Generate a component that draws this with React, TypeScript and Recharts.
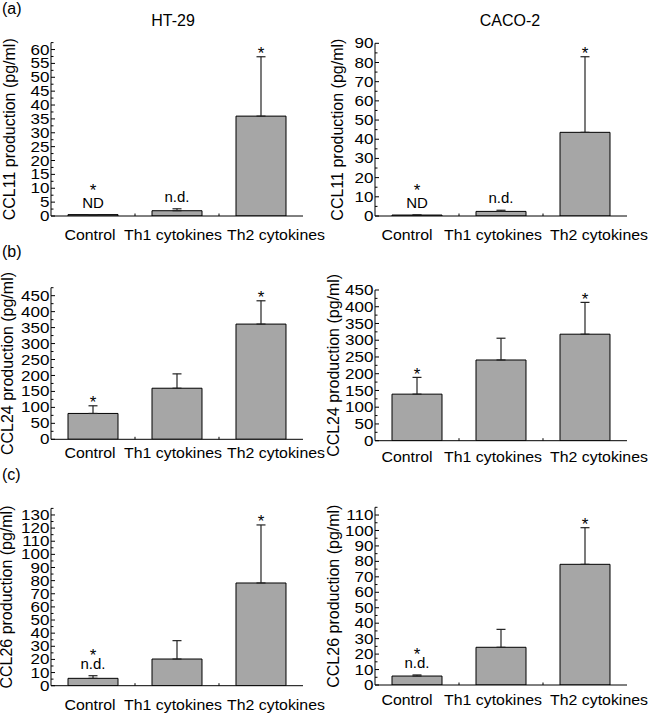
import { ComposedChart, Bar, Line, XAxis, YAxis, ErrorBar } from "recharts";

const FONT = '"Liberation Sans", Arial, Helvetica, sans-serif';

const categories = ["Control", "Th1 cytokines", "Th2 cytokines"];

// (a) CCL11
const ccl11Ht29 = [0.5, 1.9, 36.0];
const ccl11Ht29Sd = [0, 0.7, 21.4];
const ccl11Caco2 = [0.5, 2.4, 43.6];
const ccl11Caco2Sd = [0, 0.6, 39.4];

// (b) CCL24
const ccl24Ht29 = [81, 160, 361];
const ccl24Ht29Sd = [24, 45, 73];
const ccl24Caco2 = [139, 241, 318];
const ccl24Caco2Sd = [50, 65, 95];

// (c) CCL26
const ccl26Ht29 = [5.6, 20.3, 78.2];
const ccl26Ht29Sd = [2.0, 14.0, 44.2];
const ccl26Caco2 = [5.8, 24.4, 78.1];
const ccl26Caco2Sd = [0.7, 11.6, 23.7];

// significance stars and "not detected" notes per category
const starsA = [true, false, true];
const notesA = ["ND", "n.d.", ""];
const starsB = [true, false, true];
const notesB = ["", "", ""];
const starsC = [true, false, true];
const notesC = ["n.d.", "", ""];

// labelled y ticks (minor ticks fall half way between)
const ticksCcl11Ht29 = [0, 5, 10, 15, 20, 25, 30, 35, 40, 45, 50, 55, 60];
const ticksCcl11Caco2 = [0, 10, 20, 30, 40, 50, 60, 70, 80, 90];
const ticksCcl24Ht29 = [0, 50, 100, 150, 200, 250, 300, 350, 400, 450];
const ticksCcl24Caco2 = [0, 50, 100, 150, 200, 250, 300, 350, 400, 450];
const ticksCcl26Ht29 = [0, 10, 20, 30, 40, 50, 60, 70, 80, 90, 100, 110, 120, 130];
const ticksCcl26Caco2 = [0, 10, 20, 30, 40, 50, 60, 70, 80, 90, 100, 110];

const buildRows = (vals: number[], sd: number[], notes: string[], stars: boolean[]) =>
  categories.map((name, i) => ({
    name,
    value: vals[i],
    err: [0, sd[i]],
    top: vals[i] + sd[i],
    note: notes[i],
    star: stars[i],
  }));

type Cfg = {
  left: number;
  top: number;
  axisX: number;
  plotRight: number;
  plotTop: number;
  plotBottom: number;
  labelX: number;
  catDy: number;
  catDx: number[];
  starGap: number;
};

const LEFT_DX = [-3, -4, 15];
const RIGHT_DX = [-10, -8, 14];

function Panel({
  cfg,
  data,
  yMax,
  majors,
  yLabel,
}: {
  cfg: Cfg;
  data: ReturnType<typeof buildRows>;
  yMax: number;
  majors: number[];
  yLabel: string;
}) {
  const w = 325;
  const h = cfg.plotBottom - cfg.top + 28;
  const step = majors[1] - majors[0];
  const minors: number[] = [];
  majors.forEach((t, i) => {
    if (i < majors.length - 1) minors.push(t + step / 2);
  });
  const lastMinor = majors[majors.length - 1] + step / 2;
  if (lastMinor <= yMax + 1e-9) minors.push(lastMinor);
  const ticks = [...majors, ...minors].sort((a, b) => a - b);
  const majorSet = new Set(majors);
  const band = (cfg.plotRight - cfg.axisX) / categories.length;
  const ax = cfg.axisX - cfg.left;
  const by = cfg.plotBottom - cfg.top;

  const YTick = (props: any) => {
    const { y, payload } = props;
    const v = payload.value;
    const major = majorSet.has(v);
    return (
      <g>
        <line x1={ax} x2={ax + (major ? 4 : 2.5)} y1={y} y2={y} stroke="#000" strokeWidth={1} />
        {major && (
          <text
            transform={`translate(${ax - 1.5},${y}) scale(1.22,1)`}
            textAnchor="end"
            dy="0.36em"
            fontSize={14}
            fontFamily={FONT}
            fill="#000"
          >
            {v}
          </text>
        )}
      </g>
    );
  };

  const XTick = (props: any) => {
    const { x, payload, index } = props;
    return (
      <g>
        <text
          transform={`translate(${x + cfg.catDx[index]},${by + cfg.catDy}) scale(1.06,1)`}
          textAnchor="middle"
          fontSize={15}
          fontFamily={FONT}
          fill="#000"
        >
          {payload.value}
        </text>
        {index < categories.length - 1 && (
          <line x1={x + band / 2} x2={x + band / 2} y1={by} y2={by - 2.5} stroke="#000" />
        )}
      </g>
    );
  };

  const renderNote = (p: any) => {
    const { cx, cy, index, payload } = p;
    const noteY = cy - 7;
    const starY = payload.note ? noteY - cfg.starGap : cy + 2.5;
    return (
      <g key={`note-${index}`}>
        {payload.note && (
          <text x={cx} y={noteY} textAnchor="middle" fontSize={15} fontFamily={FONT} fill="#000">
            {payload.note}
          </text>
        )}
        {payload.star && (
          <text x={cx} y={starY} textAnchor="middle" fontSize={17} fontFamily={FONT} fill="#000">
            *
          </text>
        )}
      </g>
    );
  };

  const lx = cfg.labelX - cfg.left + 4;
  const ly = (cfg.plotTop + cfg.plotBottom) / 2 - cfg.top;

  return (
    <div style={{ position: "absolute", left: cfg.left, top: cfg.top }}>
      <ComposedChart
        width={w}
        height={h}
        data={data}
        margin={{ top: cfg.plotTop - cfg.top, right: cfg.left + w - cfg.plotRight, bottom: 0, left: 0 }}
      >
        <XAxis
          dataKey="name"
          height={28}
          axisLine={{ stroke: "#000", strokeWidth: 1 }}
          tickLine={false}
          tickSize={0}
          tickMargin={0}
          interval={0}
          tick={XTick}
        />
        <YAxis
          type="number"
          width={ax}
          domain={[0, yMax]}
          ticks={ticks}
          interval={0}
          allowDataOverflow
          axisLine={{ stroke: "#000", strokeWidth: 1 }}
          tickLine={false}
          tickSize={0}
          tickMargin={1}
          tick={YTick}
          label={() => (
            <text
              x={lx}
              y={ly}
              transform={`rotate(-90 ${lx} ${ly})`}
              textAnchor="middle"
              fontSize={16}
              fontFamily={FONT}
              fill="#000"
            >
              {yLabel}
            </text>
          )}
        />
        <Bar
          dataKey="value"
          fill="#a6a6a6"
          stroke="#000"
          strokeWidth={1}
          barSize={50}
          isAnimationActive={false}
        >
          <ErrorBar dataKey="err" width={4.5} stroke="#222" strokeWidth={1.2} direction="y" />
        </Bar>
        <Line
          dataKey="top"
          stroke="none"
          dot={renderNote}
          activeDot={false}
          isAnimationActive={false}
        />
      </ComposedChart>
    </div>
  );
}

export default function App() {
  return (
    <div
      style={{
        position: "absolute",
        left: 0,
        top: 0,
        width: 650,
        height: 714,
        overflow: "hidden",
        background: "#fff",
        fontFamily: FONT,
      }}
    >
      <svg width={650} height={714} style={{ position: "absolute", left: 0, top: 0 }}>
        <text x={2} y={14} fontSize={16} fontFamily={FONT}>(a)</text>
        <text x={173} y={26} fontSize={16} fontFamily={FONT} textAnchor="middle">HT-29</text>
        <text x={510} y={26} fontSize={16} fontFamily={FONT} textAnchor="middle">CACO-2</text>
        <text x={2} y={257} fontSize={16} fontFamily={FONT}>(b)</text>
        <text x={2} y={480} fontSize={16} fontFamily={FONT}>(c)</text>
      </svg>
      <Panel
        cfg={{ left: 0, top: 0, axisX: 51, plotRight: 303, plotTop: 42.6, plotBottom: 216, labelX: 11, catDy: 24, catDx: LEFT_DX, starGap: 12 }}
        data={buildRows(ccl11Ht29, ccl11Ht29Sd, notesA, starsA)}
        yMax={62.5}
        majors={ticksCcl11Ht29}
        yLabel="CCL11 production (pg/ml)"
      />
      <Panel
        cfg={{ left: 325, top: 0, axisX: 375, plotRight: 627, plotTop: 43.3, plotBottom: 216, labelX: 339, catDy: 24, catDx: RIGHT_DX, starGap: 12 }}
        data={buildRows(ccl11Caco2, ccl11Caco2Sd, notesA, starsA)}
        yMax={90}
        majors={ticksCcl11Caco2}
        yLabel="CCL11 production (pg/ml)"
      />
      <Panel
        cfg={{ left: 0, top: 240, axisX: 51, plotRight: 303, plotTop: 287.7, plotBottom: 439.3, labelX: 9.5, catDy: 19, catDx: LEFT_DX, starGap: 8 }}
        data={buildRows(ccl24Ht29, ccl24Ht29Sd, notesB, starsB)}
        yMax={475}
        majors={ticksCcl24Ht29}
        yLabel="CCL24 production (pg/ml)"
      />
      <Panel
        cfg={{ left: 325, top: 240, axisX: 375, plotRight: 627, plotTop: 290, plotBottom: 440.7, labelX: 335, catDy: 21, catDx: RIGHT_DX, starGap: 8 }}
        data={buildRows(ccl24Caco2, ccl24Caco2Sd, notesB, starsB)}
        yMax={450}
        majors={ticksCcl24Caco2}
        yLabel="CCL24 production (pg/ml)"
      />
      <Panel
        cfg={{ left: 0, top: 464, axisX: 51, plotRight: 303, plotTop: 508.4, plotBottom: 685.7, labelX: 8.5, catDy: 24, catDx: LEFT_DX, starGap: 8 }}
        data={buildRows(ccl26Ht29, ccl26Ht29Sd, notesC, starsC)}
        yMax={135}
        majors={ticksCcl26Ht29}
        yLabel="CCL26 production (pg/ml)"
      />
      <Panel
        cfg={{ left: 325, top: 464, axisX: 375, plotRight: 627, plotTop: 507.3, plotBottom: 685, labelX: 335, catDy: 20, catDx: RIGHT_DX, starGap: 8 }}
        data={buildRows(ccl26Caco2, ccl26Caco2Sd, notesC, starsC)}
        yMax={115}
        majors={ticksCcl26Caco2}
        yLabel="CCL26 production (pg/ml)"
      />
    </div>
  );
}
